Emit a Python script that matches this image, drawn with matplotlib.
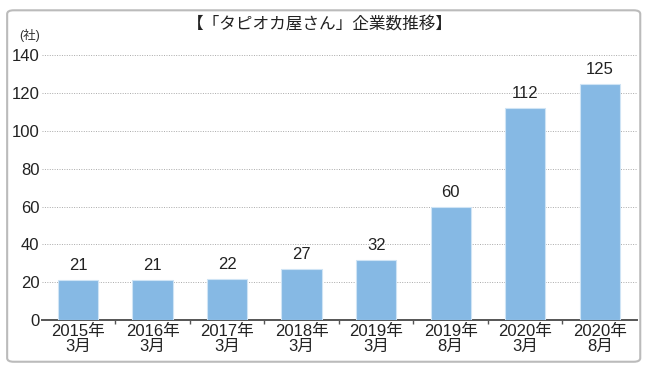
import numpy as np
import matplotlib.pyplot as plt
from matplotlib.patches import FancyBboxPatch

plt.rcParams['font.family'] = ['Liberation Sans', 'Noto Sans CJK JP', 'DejaVu Sans']

labels = ["2015年\n3月", "2016年\n3月", "2017年\n3月", "2018年\n3月",
          "2019年\n3月", "2019年\n8月", "2020年\n3月", "2020年\n8月"]
counts = [21, 21, 22, 27, 32, 60, 112, 125]
yticks = [0, 20, 40, 60, 80, 100, 120, 140]

fig = plt.figure(figsize=(6.5, 3.68), dpi=100)
ax = fig.add_axes([0.065, 0.13, 0.915, 0.72])

x = np.arange(len(counts))
bars = ax.bar(x, counts, width=0.54, color="#86b9e4", edgecolor="#cfe4f5", linewidth=0.8, zorder=3)
for b, v in zip(bars, counts):
    ax.annotate(str(v), (b.get_x() + b.get_width() / 2, v), xytext=(0, 5),
                textcoords="offset points", ha="center", va="bottom", fontsize=12, color="#222222")

ax.set_xlim(-0.48, 7.5)
ax.set_ylim(0, 140)
ax.set_yticks(yticks)
ax.set_yticklabels([str(t) for t in yticks], fontsize=12, color="#222222")
ax.yaxis.grid(True, linestyle=(0, (1, 1.5)), color="#aaaaaa", linewidth=0.7, zorder=0)
ax.tick_params(axis="y", length=0, pad=2)

ax.set_xticks(x)
ax.set_xticklabels(labels, fontsize=12, color="#222222", linespacing=0.95)
ax.set_xticks(np.arange(0.5, 7.5, 1.0), minor=True)
ax.tick_params(axis="x", which="major", length=0, pad=3)
ax.tick_params(axis="x", which="minor", length=3, width=1, color="#555555", direction="out")

for s in ["left", "top", "right"]:
    ax.spines[s].set_visible(False)
ax.spines["bottom"].set_color("#555555")
ax.spines["bottom"].set_linewidth(1.4)

fig.text(0.046, 0.905, "(社)", fontsize=9, color="#333333", ha="center", va="center")
fig.text(0.492, 0.935, "【「タピオカ屋さん」企業数推移】", fontsize=12, color="#222222",
         ha="center", va="center")

frame = FancyBboxPatch((0.011, 0.017), 0.974, 0.955, boxstyle="round,pad=0,rounding_size=0.01",
                       transform=fig.transFigure, facecolor="none", edgecolor="#bbbbbb", linewidth=1.5)
fig.patches.append(frame)

fig.savefig("out.png", dpi=100)
